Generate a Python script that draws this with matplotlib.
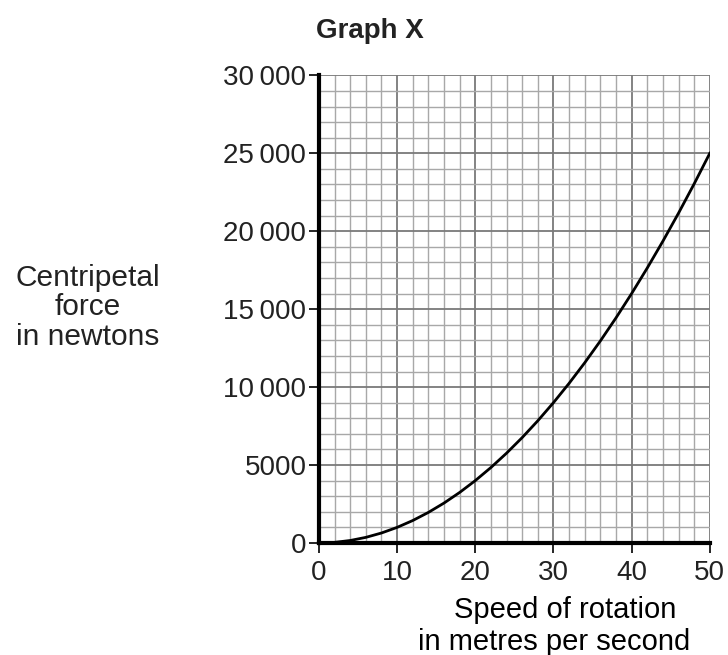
import matplotlib.pyplot as plt
import numpy as np

plt.rcParams['font.family'] = ['Liberation Sans', 'DejaVu Sans']

# values (centripetal force vs speed)
speed = [0, 2, 4, 6, 8, 10, 12, 14, 16, 18, 20, 22, 24, 26, 28, 30,
         32, 34, 36, 38, 40, 42, 44, 46, 48, 50]
force = [0, 40, 160, 360, 640, 1000, 1440, 1960, 2560, 3240, 4000, 4840,
         5760, 6760, 7840, 9000, 10240, 11560, 12960, 14440, 16000, 17640,
         19360, 21160, 23040, 25000]

xticks = [0, 10, 20, 30, 40, 50]
yticks = [0, 5000, 10000, 15000, 20000, 25000, 30000]
ytick_labels = ['0', '5000', '10\u2009000', '15\u2009000', '20\u2009000', '25\u2009000', '30\u2009000']

fig = plt.figure(figsize=(7.28, 6.55), dpi=100)
ax = fig.add_axes([0.438, 0.171, 0.537, 0.714])

ax.plot(speed, force, color='black', lw=2)

ax.set_xlim(0, 50)
ax.set_ylim(0, 30000)
ax.set_xticks(xticks)
ax.set_yticks(yticks)
ax.set_yticklabels(ytick_labels)
ax.set_xticks(np.arange(0, 51, 2), minor=True)
ax.set_yticks(np.arange(0, 30001, 1000), minor=True)

ax.grid(which='minor', color='#a8a8a8', lw=1.0)
ax.grid(which='major', color='#7a7a7a', lw=1.3)
ax.set_axisbelow(True)

for s in ['top', 'right']:
    ax.spines[s].set_visible(False)
for s in ['left', 'bottom']:
    ax.spines[s].set_linewidth(3)
    ax.spines[s].set_zorder(5)

ax.tick_params(which='major', length=7, width=1.2, labelsize=20, direction='out',
               colors='black', labelcolor='#222222')
ax.tick_params(axis='y', pad=2)
ax.tick_params(axis='x', pad=5)
ax.tick_params(which='minor', length=0)

fig.text(0.508, 0.953, 'Graph X', fontsize=20, fontweight='bold', ha='center', va='center',
         color='#222222')
fig.text(0.12, 0.531, 'Centripetal\nforce\nin newtons', fontsize=21.5, ha='center', va='center',
         linespacing=1.07, color='#222222')
fig.text(0.776, 0.069, 'Speed of rotation', fontsize=21, ha='center', va='center')
fig.text(0.761, 0.020, 'in metres per second', fontsize=21, ha='center', va='center')

fig.savefig('out.png', dpi=100)
